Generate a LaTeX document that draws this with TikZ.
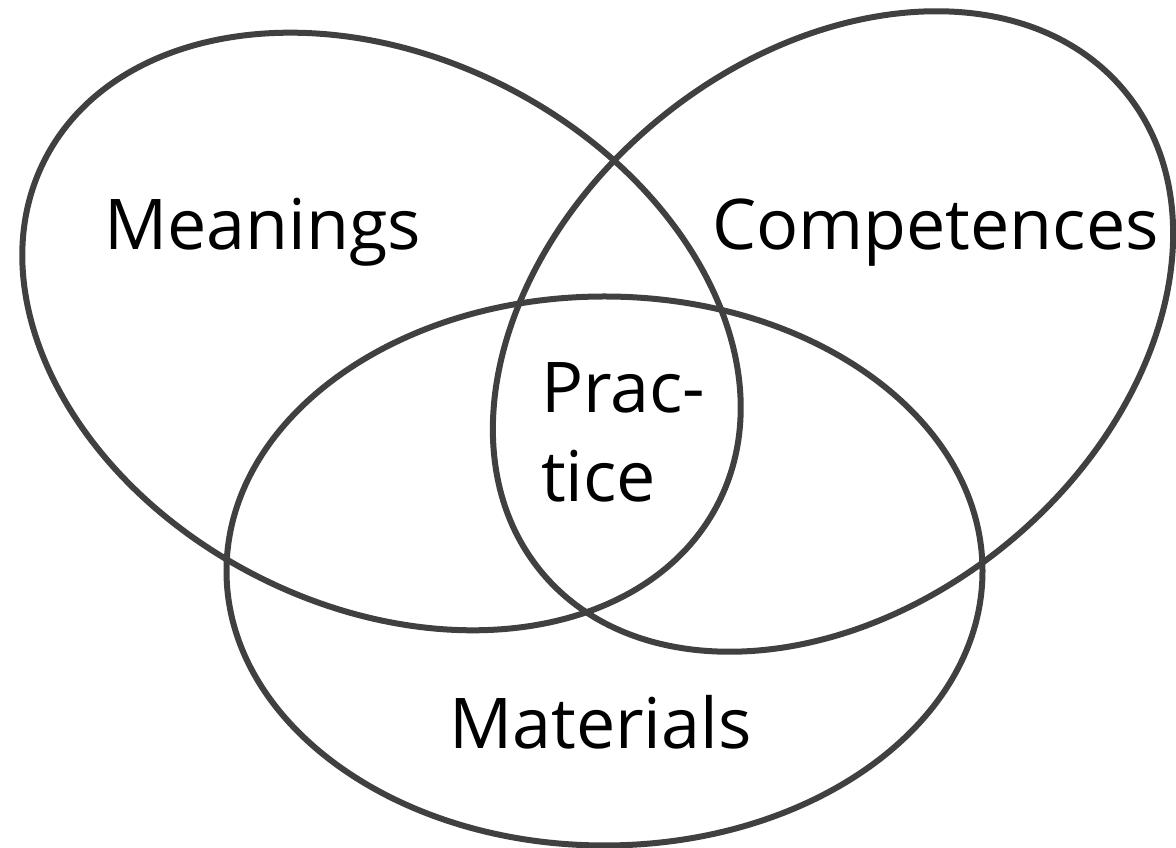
\documentclass[tikz,border=0pt]{standalone}
\usepackage{fontspec}
\setmainfont{Open Sans}
\usetikzlibrary{shapes.geometric}
\definecolor{ringgray}{HTML}{404040}
\tikzset{
  ring/.style={draw=ringgray, line width=6pt, ellipse, inner sep=0pt, outer sep=0pt,
    minimum width=756pt, minimum height=549pt},
  label/.style={font=\fontsize{70}{84}\selectfont, text=black, inner sep=0pt, anchor=base}
}
\begin{document}
\begin{tikzpicture}[x=1pt,y=1pt]
  \useasboundingbox (0,0) rectangle (1176,848);
  \node[ring, rotate=-27] (meanings) at (381.5,516.5) {};
  \node[ring, rotate=39.4] (competences) at (833,516.5) {};
  \node[ring] (materials) at (604.5,277) {};
  \node[label] (tmeanings) at (262.5,598) {Meanings};
  \node[label] (tcompetences) at (935.5,598) {Competences};
  \node[label] (tmaterials) at (600.5,99) {Materials};
  \node[label, anchor=base west] (tprac) at (541,435) {Prac-};
  \node[label, anchor=base west] (ttice) at (541,346) {tice};
\end{tikzpicture}
\end{document}
